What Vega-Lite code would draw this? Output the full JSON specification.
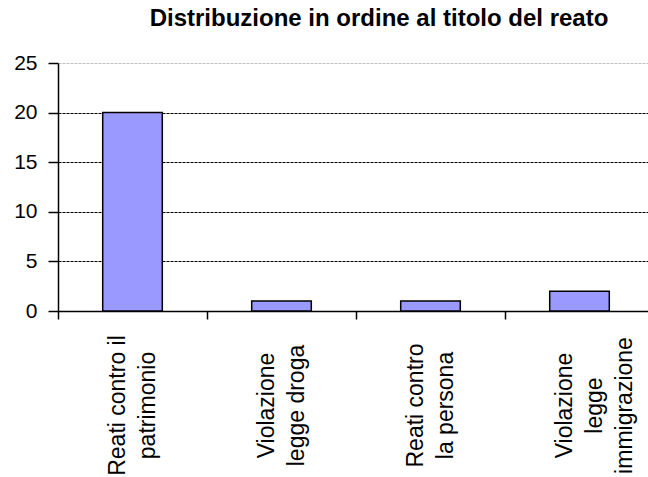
{
  "$schema": "https://vega.github.io/schema/vega-lite/v6.json",
  "autosize": {"type": "none"},
  "width": 590,
  "height": 248,
  "padding": {"left": 58, "top": 63, "right": 0, "bottom": 166},
  "background": "white",
  "title": {
    "text": "Distribuzione in ordine al titolo del reato",
    "font": "Liberation Sans",
    "fontSize": 24,
    "fontWeight": "bold",
    "color": "black",
    "anchor": "middle",
    "dx": 26,
    "offset": 21
  },
  "data": {
    "values": [
      {"reato": "Reati contro il|patrimonio", "n": 20, "ord": 1},
      {"reato": "Violazione|legge droga", "n": 1, "ord": 2},
      {"reato": "Reati contro|la persona", "n": 1, "ord": 3},
      {"reato": "Violazione|legge|immigrazione", "n": 2, "ord": 4}
    ]
  },
  "mark": {"type": "bar", "color": "#9999FF", "stroke": "black", "strokeWidth": 1.5, "width": {"band": 0.4}},
  "encoding": {
    "x": {
      "field": "reato",
      "type": "nominal",
      "sort": {"field": "ord"},
      "scale": {"range": [0, 596], "paddingInner": 0, "paddingOuter": 0},
      "axis": {
        "title": null,
        "labelAngle": -90,
        "labelAlign": "center",
        "labelBaseline": "middle",
        "labelExpr": "split(datum.label, '|')",
        "labelFont": "Liberation Sans",
        "labelFontSize": 23,
        "labelLineHeight": 30,
        "labelColor": "black",
        "labelPadding": 86,
        "labelLimit": 300,
        "labelOffset": -15,
        "tickBand": "extent",
        "tickSize": 8,
        "tickColor": "black",
        "tickWidth": 1.5,
        "domainColor": "black",
        "domainWidth": 1.5,
        "grid": false
      }
    },
    "y": {
      "field": "n",
      "type": "quantitative",
      "scale": {"domain": [0, 25], "nice": false},
      "axis": {
        "title": null,
        "values": [0, 5, 10, 15, 20, 25],
        "labelFont": "Liberation Sans",
        "labelFontSize": 21,
        "labelColor": "black",
        "labelPadding": 11,
        "tickSize": 10,
        "tickColor": "black",
        "tickWidth": 1.5,
        "domainColor": "black",
        "domainWidth": 1.5,
        "grid": true,
        "gridColor": {"condition": {"test": "datum.value == 25", "value": "#c0c0c0"}, "value": "#000000"},
        "gridDash": [3, 1],
        "gridWidth": 1
      }
    }
  },
  "config": {"view": {"stroke": null}}
}
